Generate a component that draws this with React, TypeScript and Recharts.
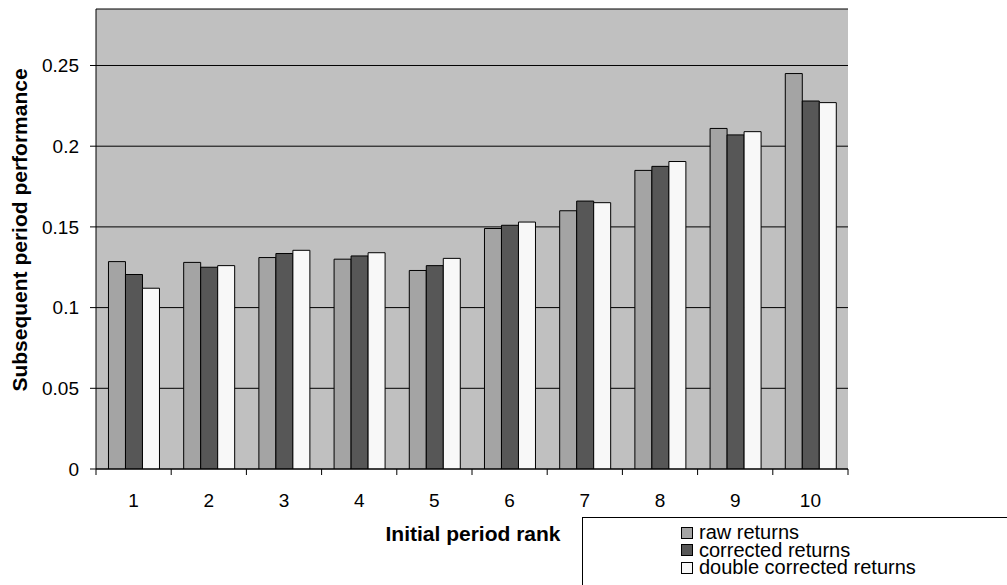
import React from "react";
import {
  Bar,
  BarChart,
  CartesianGrid,
  Legend,
  ReferenceLine,
  XAxis,
  YAxis,
} from "recharts";

const ranks = ["1", "2", "3", "4", "5", "6", "7", "8", "9", "10"];
const rawReturns = [0.1285, 0.128, 0.131, 0.13, 0.123, 0.149, 0.16, 0.185, 0.211, 0.245];
const correctedReturns = [0.1205, 0.125, 0.1335, 0.132, 0.126, 0.151, 0.166, 0.1875, 0.207, 0.228];
const doubleCorrectedReturns = [0.112, 0.126, 0.1355, 0.134, 0.1305, 0.153, 0.165, 0.1905, 0.209, 0.227];
const yTicks = [0, 0.05, 0.1, 0.15, 0.2, 0.25];

const series = [
  { key: "raw", name: "raw returns", color: "#A4A4A4" },
  { key: "corrected", name: "corrected returns", color: "#575757" },
  { key: "double", name: "double corrected returns", color: "#F8F8F8" },
];

const data = ranks.map((rank, i) => ({
  rank,
  raw: rawReturns[i],
  corrected: correctedReturns[i],
  double: doubleCorrectedReturns[i],
}));

const FONT = '"Liberation Sans", Arial, sans-serif';

// Excel style: tick marks sit between the categories, labels in the middle
const RankTick = (props: any) => {
  const { x, y, payload, index } = props;
  const half = payload.offset || 0;
  return (
    <g>
      <line x1={x - half} y1={y} x2={x - half} y2={y + 6} stroke="#000" />
      {index === ranks.length - 1 && (
        <line x1={x + half} y1={y} x2={x + half} y2={y + 6} stroke="#000" />
      )}
      <text
        x={x}
        y={y + 38}
        textAnchor="middle"
        fontFamily={FONT}
        fontSize={19}
        fill="#000"
      >
        {payload.value}
      </text>
    </g>
  );
};

const renderLegend = (props: any) => {
  const payload = [...(props.payload || [])].sort(
    (a: any, b: any) =>
      series.findIndex((s) => s.name === a.value) -
      series.findIndex((s) => s.name === b.value)
  );
  return (
    <div
      style={{
        border: "1px solid #000",
        background: "#fff",
        width: 500,
        height: 100,
        boxSizing: "border-box",
        paddingTop: 6,
        paddingLeft: 98,
        fontFamily: FONT,
        fontSize: 20,
        color: "#000",
      }}
    >
      {payload.map((entry: any) => (
        <div
          key={entry.value}
          style={{ display: "flex", alignItems: "center", height: 17.5 }}
        >
          <span
            style={{
              display: "inline-block",
              width: 10,
              height: 10,
              border: "1px solid #000",
              background: entry.color,
              marginRight: 6,
            }}
          />
          <span style={{ lineHeight: "17.5px" }}>{entry.value}</span>
        </div>
      ))}
    </div>
  );
};

export default function App() {
  return (
    <div
      style={{
        position: "absolute",
        left: 0,
        top: 0,
        width: 1007,
        height: 585,
        overflow: "hidden",
        background: "#fff",
      }}
    >
      <BarChart
        width={1007}
        height={585}
        data={data}
        margin={{ top: 9, right: 159, left: 0, bottom: 0 }}
        barCategoryGap="16.6%"
        barGap={0}
      >
        <CartesianGrid
          vertical={false}
          fill="#C0C0C0"
          fillOpacity={1}
          stroke="#000"
          strokeWidth={1}
        />
        <XAxis
          xAxisId="edge"
          type="number"
          domain={[0, 10]}
          allowDataOverflow
          hide
        />
        <XAxis
          dataKey="rank"
          height={116}
          axisLine={{ stroke: "#000" }}
          tickLine={false}
          tickSize={0}
          tickMargin={0}
          interval={0}
          tick={<RankTick />}
          label={{
            content: () => (
              <text
                x={473}
                y={541}
                textAnchor="middle"
                fontFamily={FONT}
                fontSize={21}
                fontWeight="bold"
                fill="#000"
              >
                Initial period rank
              </text>
            ),
          }}
        />
        <YAxis
          width={96}
          domain={[0, 0.285]}
          ticks={yTicks}
          allowDataOverflow
          interval={0}
          tickSize={6}
          tickMargin={11}
          axisLine={{ stroke: "#000" }}
          tickLine={{ stroke: "#000" }}
          tick={{ fill: "#000", fontSize: 19, fontFamily: FONT }}
          label={{
            content: () => (
              <text
                transform="translate(27, 230) rotate(-90)"
                textAnchor="middle"
                fontFamily={FONT}
                fontSize={21}
                fontWeight="bold"
                fill="#000"
              >
                Subsequent period performance
              </text>
            ),
          }}
        />
        <ReferenceLine xAxisId="edge" x={10} stroke="#808080" />
        <Legend
          layout="vertical"
          align="center"
          verticalAlign="middle"
          content={renderLegend}
          wrapperStyle={{ left: 582, top: 517, width: 500, height: 100 }}
        />
        {series.map((s) => (
          <Bar
            key={s.key}
            dataKey={s.key}
            name={s.name}
            fill={s.color}
            stroke="#000"
            strokeWidth={1}
            isAnimationActive={false}
          />
        ))}
      </BarChart>
    </div>
  );
}
